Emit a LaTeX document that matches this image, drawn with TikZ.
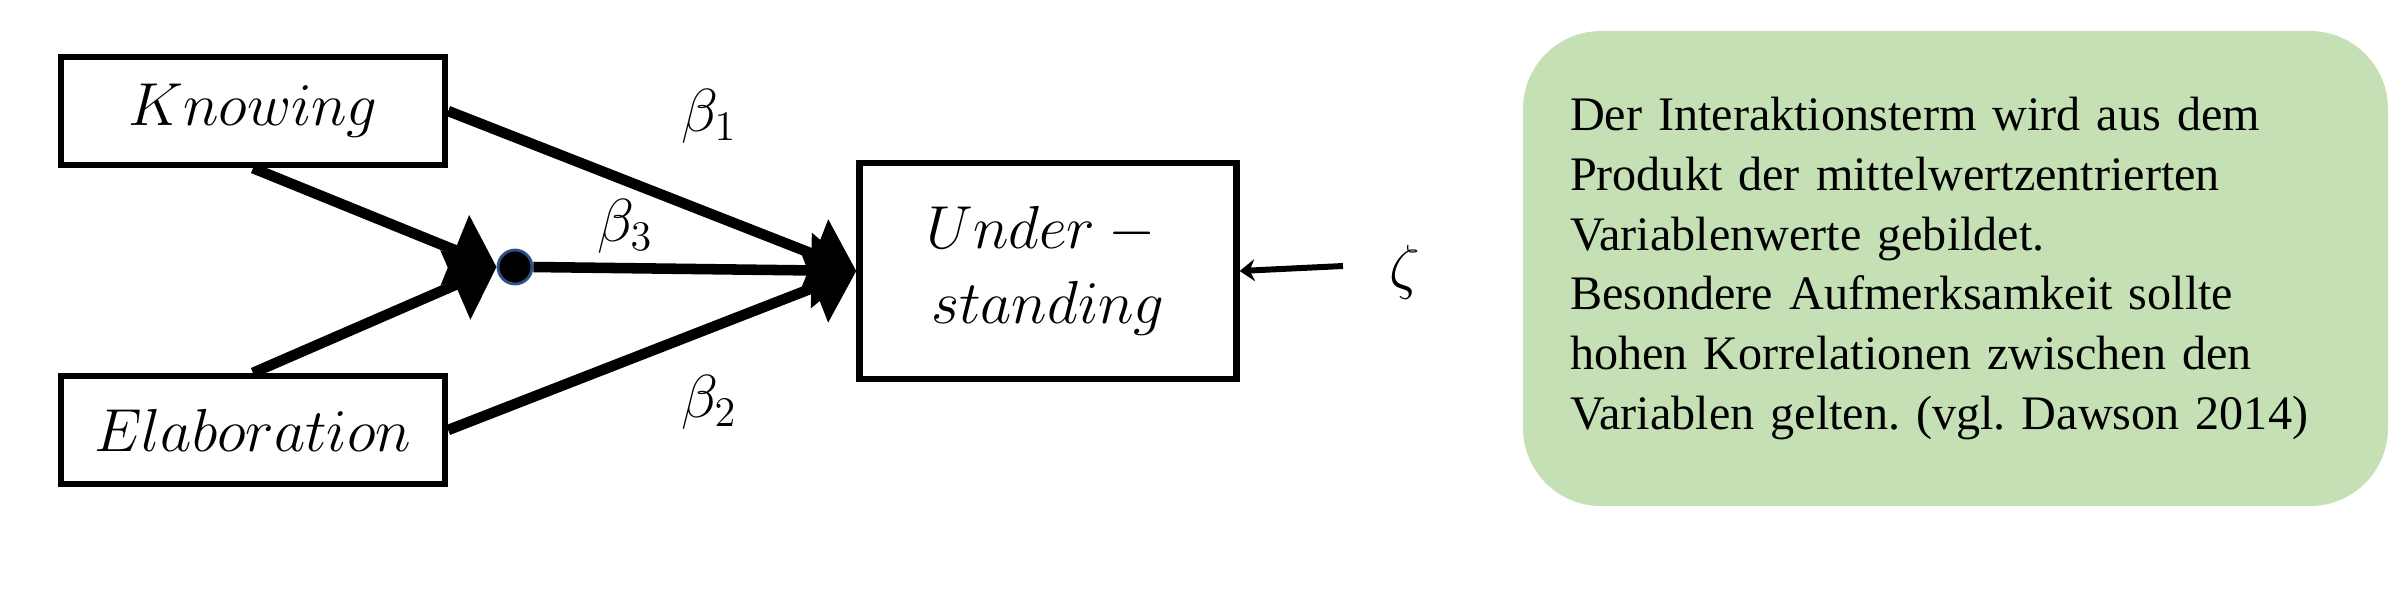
\documentclass[tikz,border=0pt]{standalone}
\usepackage{fontspec}
\newfontfamily\notefont{Liberation Serif}
\usetikzlibrary{arrows.meta}
\definecolor{notegreen}{HTML}{C5E0B4}
\definecolor{dotblue}{HTML}{2F528F}

\begin{document}
\begin{tikzpicture}[
    varbox/.style={draw, line width=1.8pt, minimum width=3.84cm, minimum height=1.08cm, inner sep=0pt, font=\fontsize{18}{21.5}\selectfont},
    effect/.style={line width=3pt, -{Triangle[length=0.45cm, width=0.73cm]}},
    coef/.style={font=\fontsize{18}{21.5}\selectfont}
  ]
                    \useasboundingbox (0,0) rectangle (24.04,6.05);

                    \node[varbox] (knowing) at (2.53,4.94) {$Knowing$};
                    \node[varbox] (elab) at (2.53,1.75) {$Elaboration$};
                    \node[varbox, minimum width=3.77cm, minimum height=2.16cm, align=center] (under) at (10.48,3.34) {$Under -{}$\\$standing$};

                    \node[circle, fill=black, draw=dotblue, line width=0.8pt, minimum size=0.34cm, inner sep=0pt] (inter) at (5.15,3.38) {};

                    % paths
                    \draw[effect] (knowing.east) -- (under.west);
                    \draw[effect] (elab.east) -- (under.west);
                    \draw[effect] (inter.east) -- (under.west);
                    \draw[effect] (knowing.south) -- (inter.west);
                    \draw[effect] (elab.north) -- (inter.west);

                    \node[coef] (b1) at (7.09,4.89) {$\beta_1$};
                    \node[coef] (b3) at (6.25,3.79) {$\beta_3$};
                    \node[coef] (b2) at (7.09,2.03) {$\beta_2$};

                    % residual
                    \node[coef] (zeta) at (14.05,3.33) {$\zeta$};
                    \coordinate (zetafrom) at (13.43,3.39);
                    \draw[line width=1.7pt, -{Stealth[length=0.15cm, width=0.22cm, inset=0.05cm]}] (zetafrom) -- (under.east);

                    \node[fill=notegreen, rounded corners=0.78cm, minimum width=8.65cm, minimum height=4.75cm, text width=7.71cm, inner xsep=0.47cm, align=left, font=\notefont\frenchspacing\fontsize{13.7}{17}\selectfont] (note) at (19.555,3.365) {Der Interaktionsterm wird aus dem\\ Produkt der mittelwertzentrierten\\ Variablenwerte gebildet.\\ Besondere Aufmerksamkeit sollte\\ hohen Korrelationen zwischen den\\ Variablen gelten. (vgl. Dawson 2014)};
                \end{tikzpicture}
\end{document}
